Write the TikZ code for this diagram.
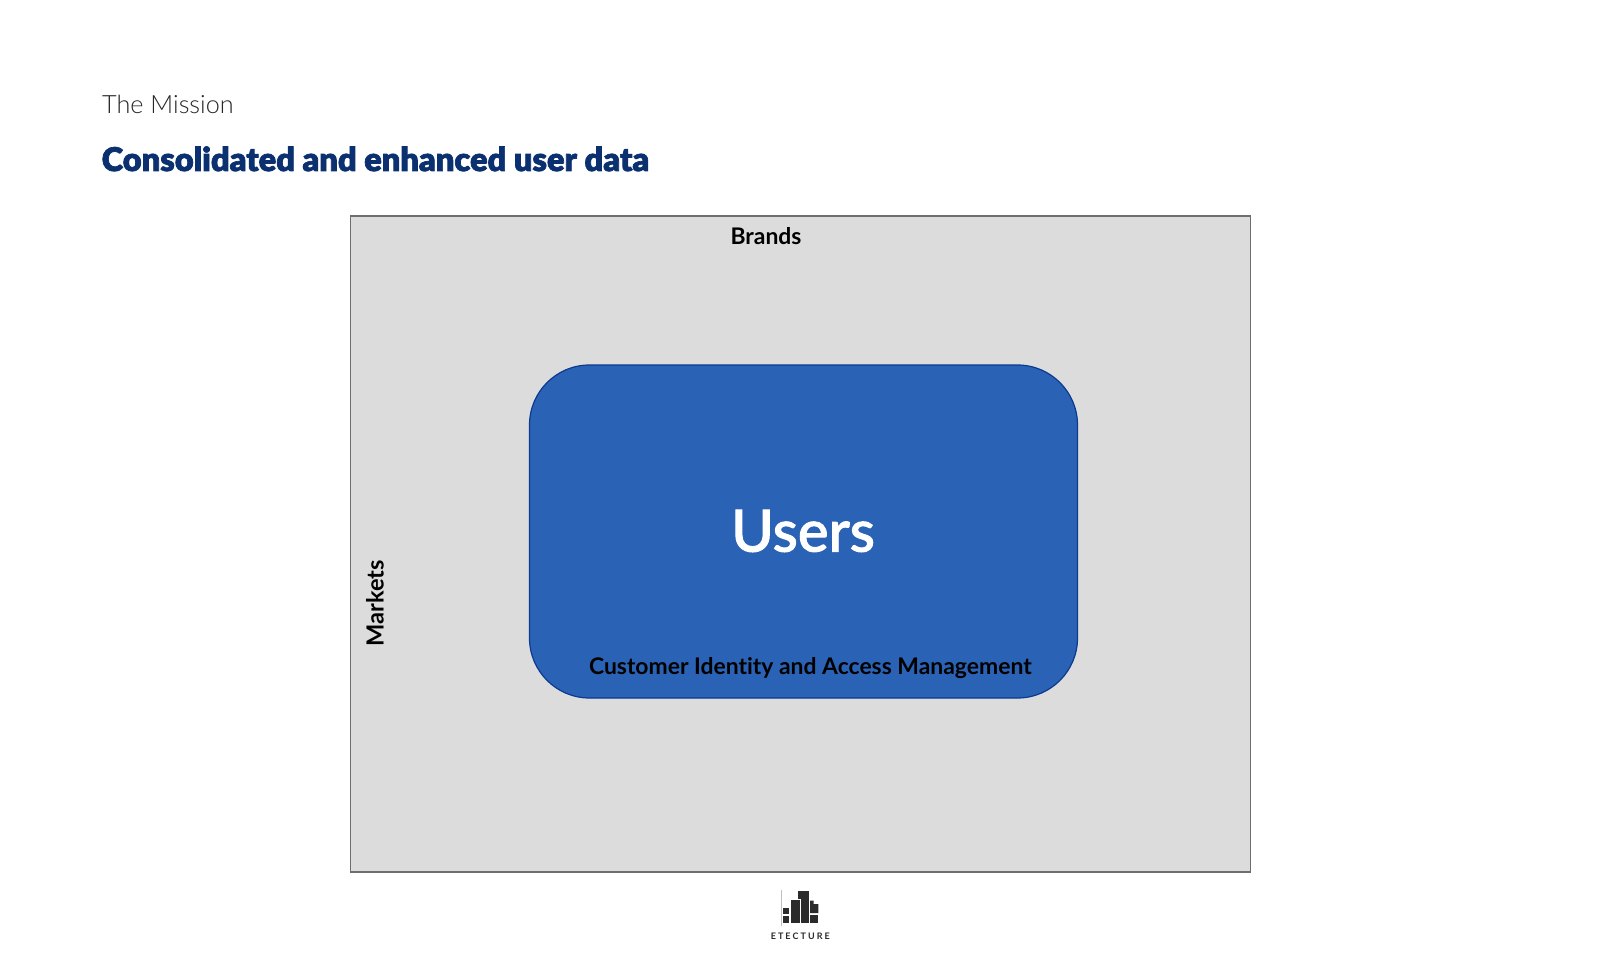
\documentclass[tikz,border=0pt]{standalone}
\usepackage{fontspec}
\usepackage{xcolor}
\setmainfont[Ligatures=NoCommon]{Lato}
\newfontfamily\latolight{Lato Light}
\newfontfamily\latoblack[FakeBold=2.2]{Lato Black}
\newfontfamily\latomedium[FakeBold=1.6]{Lato Medium}
\definecolor{boxgray}{HTML}{DCDCDC}
\definecolor{boxline}{HTML}{6E6E6E}
\definecolor{userblue}{HTML}{2A63B5}
\definecolor{userline}{HTML}{0B3A8F}
\definecolor{titleblue}{HTML}{0B3070}
\definecolor{logodark}{HTML}{2B2B2B}
\tikzset{
  label text/.style={inner sep=0pt,font=\fontsize{22.9}{27}\selectfont\bfseries,text=black},
  logo bar/.style={fill=logodark,draw=none},
}
\begin{document}
\begin{tikzpicture}[x=1pt,y=-1pt]
  \useasboundingbox (0,0) rectangle (1600,976);
  \fill[white] (0,0) rectangle (1600,976);

  \node[anchor=base west,inner sep=0pt,font=\latolight\fontsize{25.2}{30}\selectfont,text=black!85] (mission) at (102,114) {The Mission};
  \node[anchor=base west,inner sep=0pt,font=\latoblack\fontsize{32.6}{38}\selectfont,text=titleblue] (heading) at (101.5,171) {Consolidated and enhanced user data};

  \node[draw=boxline,fill=boxgray,line width=1.4pt,minimum width=899.6pt,minimum height=656pt,inner sep=0pt] (brandsbox) at (800.5,544) {};
  \node[draw=userline,fill=userblue,line width=1.2pt,rounded corners=60pt,minimum width=548pt,minimum height=333pt,inner sep=0pt] (usersbox) at (803.5,531.5) {};

  \node[label text] (brands) at (766,236) {Brands};
  \node[label text,rotate=90,font=\fontsize{23.6}{27}\selectfont\bfseries] (markets) at (375,603.5) {Markets};
  \node[inner sep=0pt,font=\latomedium\fontsize{58}{68}\selectfont,text=white] (users) at (803,531) {Users};
  \node[label text,anchor=base] (ciam) at (810.3,674) {Customer Identity and Access Management};

  % logo
  \draw[black!25,line width=0.8pt] (781.5,890) -- (781.5,926);
  \fill[logo bar] (797.7,891.3) rectangle (809,923);
  \draw[logo bar,draw=white,line width=0.7pt] (790.5,899) rectangle (800.7,923.4);
  \fill[logo bar] (783.3,908) rectangle (789,914);
  \fill[logo bar] (783.3,915.5) rectangle (789,923);
  \fill[logo bar] (810,900.7) -- (813.5,900.7) -- (813.5,904) -- (818.3,904) -- (818.3,913) -- (810,913) -- cycle;
  \fill[logo bar] (810,914.5) rectangle (818.3,923);
  \node[inner sep=0pt,font=\fontsize{9}{10}\selectfont\bfseries,text=logodark] (etecture) at (800.3,936) {\addfontfeature{LetterSpace=23}ETECTURE};
\end{tikzpicture}
\end{document}
